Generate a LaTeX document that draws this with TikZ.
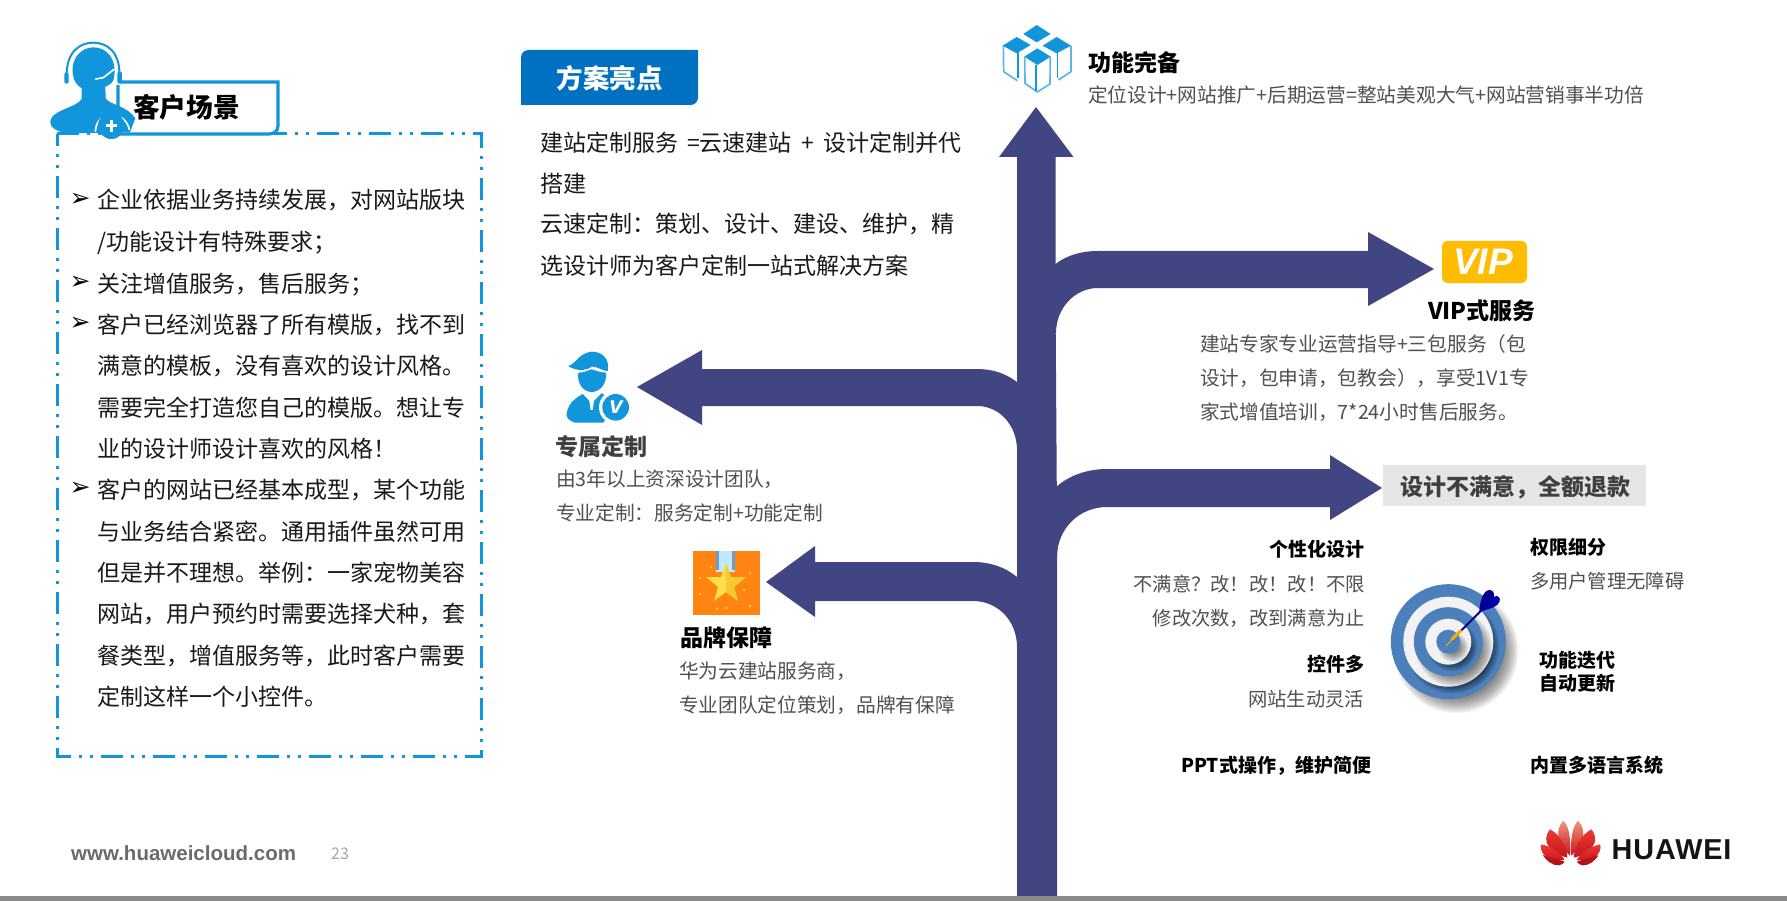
\documentclass[tikz,border=0pt]{standalone}
\usepackage{fontspec}
\setmainfont{Noto Sans CJK SC}
\newfontfamily\dvfont{DejaVu Sans}
\newfontfamily\libfont{Liberation Sans}
\definecolor{arrowblue}{HTML}{414581}
\definecolor{iconblue}{HTML}{1296DB}
\definecolor{cubelight}{HTML}{5DB5E8}
\definecolor{tagblue}{HTML}{0070C0}
\definecolor{bodygray}{HTML}{505050}
\definecolor{headgray}{HTML}{404040}
\definecolor{ringblue}{HTML}{4C80BC}
\definecolor{ringwhite}{HTML}{F2F2F2}
\definecolor{barcol}{HTML}{898989}
\definecolor{vipcol}{HTML}{FFBC00}
\definecolor{medalcol}{HTML}{FF8411}
\definecolor{starlight}{HTML}{FFE048}
\definecolor{stardark}{HTML}{F8C832}
\definecolor{petaltop}{HTML}{F4957C}
\definecolor{petalmid}{HTML}{EE3A32}
\definecolor{petalbot}{HTML}{C4141C}
\definecolor{petallow}{HTML}{A80F14}
\tikzset{
  txt/.style={inner sep=0pt,outer sep=0pt,font=\fontsize{#1}{#1}\selectfont,text height=0.91*#1 pt,text depth=0.09*#1 pt},
  btxt/.style={inner sep=0pt,outer sep=0pt,font=\fontsize{#1}{#1}\selectfont\bfseries,text height=0.91*#1 pt,text depth=0.09*#1 pt},
  lt/.style={anchor=west},
  rt/.style={anchor=east},
  panel/.style={txt=23,lt,text=black!90},
  desc/.style={txt=19.7,text=bodygray},
  bigarrow/.style={fill=arrowblue,draw=none},
  petal/.style={top color=#1,bottom color=petalbot,draw=none}
}
\newcommand{\ringshadow}[4]{% cx cy r shift
  \foreach \k in {0,...,15}{
    \fill[black,opacity=0.045] (#1+#4,#2+#4*1.15) circle[radius=#3+#4*0.6-\k*#4*0.15];
  }
}
\begin{document}
\begin{tikzpicture}[x=1pt,y=-1pt]
\useasboundingbox (0,0) rectangle (1787,901);
\fill[white] (0,0) rectangle (1787,901);

% ---- arrows
\fill[bigarrow] (1017,901) -- (1017,157) -- (999,157) -- (1036,107) -- (1073.5,157) -- (1055.5,157) -- (1055.5,300) -- (1057,520) -- (1057,901) -- cycle;
\fill[bigarrow] (1050,264) -- (1055.5,264) .. controls (1067,255) and (1082,251) .. (1098,251) -- (1368,251) -- (1368,232) -- (1434,269) -- (1368,306) -- (1368,288) -- (1098,288) .. controls (1075,288) and (1056,308) .. (1056,333) -- (1050,333) -- cycle;
\fill[bigarrow] (1050,488) -- (1055,488) .. controls (1069,475) and (1088,469) .. (1107,469) -- (1330,469) -- (1330,455) -- (1382,488) -- (1330,520) -- (1330,507) -- (1107,507) .. controls (1079,507) and (1057,529) .. (1057,557) -- (1050,557) -- cycle;
\fill[bigarrow] (1025,382) -- (1017,382) .. controls (1005,373) and (992,369) .. (977,369) -- (702,369) -- (702,350) -- (637,387) -- (702,425) -- (702,406) -- (977,406) .. controls (1000,406) and (1017,426) .. (1017,450) -- (1025,450) -- cycle;
\fill[bigarrow] (1025,577) -- (1017,577) .. controls (1005,567) and (990,562) .. (973,562) -- (815,562) -- (815,546) -- (766,582) -- (815,617) -- (815,601) -- (973,601) .. controls (998,601) and (1017,621) .. (1017,647) -- (1025,647) -- cycle;

% ---- bottom bar
\fill[barcol] (0,896) rectangle (1787,901);

% ---- left panel
\draw[iconblue,line width=3pt,dash pattern=on 22pt off 8pt on 3pt off 8pt on 3pt off 8pt] (57,134) -- (481,134) -- (481,756) -- (57,756) -- cycle;
\draw[iconblue,line width=3.2pt,fill=white] (118,82) -- (278,82) -- (278,126) .. controls (278,131) and (274,134) .. (269,134) -- (118,134) -- cycle;

% person with headset
\begin{scope}[shift={(40,35)},x=0.3333pt,y=-0.3333pt]
  \fill[white] (85,110) rectangle (240,150);
  \draw[iconblue,line width=2pt,line cap=round] (80,125) .. controls (78,50) and (120,23) .. (160,23) .. controls (200,23) and (242,50) .. (238,125);
  \fill[iconblue,rounded corners=2pt] (73,112) rectangle (86,146);
  \fill[iconblue,rounded corners=2pt] (232,110) rectangle (246,146);
  \fill[iconblue] (100,125) .. controls (88,70) and (125,37) .. (160,37) .. controls (200,37) and (232,70) .. (222,130) .. controls (218,145) and (208,150) .. (196,155) -- (197,190) .. controls (205,208) and (262,212) .. (286,250) -- (270,292) -- (80,295) .. controls (45,288) and (28,275) .. (31,258) .. controls (35,225) and (110,218) .. (125,192) -- (125,160) .. controls (110,150) and (102,138) .. (100,125) -- cycle;
  \draw[white,line width=1.7pt,line cap=round] (167,132) -- (190,128) -- (222,103);
  \draw[white,line width=1.7pt] (166,290) .. controls (168,255) and (190,240) .. (215,240) .. controls (245,240) and (265,262) .. (268,285);
  \fill[iconblue] (214,272) circle[radius=40];
  \fill[white] (197,267) rectangle (232,277);
  \fill[white] (209,254) rectangle (219,290);
\end{scope}
\node[btxt=26.7,text=black] (tabtitle) at (186.5,107) {客户场景};

\foreach \yy in {199.5,283,323.7,489}{
  \node[inner sep=0pt,font=\fontsize{25}{25}\selectfont\dvfont,text=black] at (80,\yy) {➢};
}
\node[panel] (p1) at (97,199.5) {企业依据业务持续发展，对网站版块};
\node[panel] (p2) at (97,241) {/功能设计有特殊要求；};
\node[panel] (p3) at (97,283) {关注增值服务，售后服务；};
\node[panel] (p4) at (97,323.7) {客户已经浏览器了所有模版，找不到};
\node[panel] (p5) at (97,365) {满意的模板，没有喜欢的设计风格。};
\node[panel] (p6) at (97,407) {需要完全打造您自己的模版。想让专};
\node[panel] (p7) at (97,448) {业的设计师设计喜欢的风格！};
\node[panel] (p8) at (97,489) {客户的网站已经基本成型，某个功能};
\node[panel] (p9) at (97,531) {与业务结合紧密。通用插件虽然可用};
\node[panel] (p10) at (97,572) {但是并不理想。举例：一家宠物美容};
\node[panel] (p11) at (97,613) {网站，用户预约时需要选择犬种，套};
\node[panel] (p12) at (97,655) {餐类型，增值服务等，此时客户需要};
\node[panel] (p13) at (97,696) {定制这样一个小控件。};

% ---- highlight tag
\fill[tagblue] (521,105) -- (521,58) .. controls (521,53) and (524,50) .. (529,50) -- (698,50) -- (698,97) .. controls (698,102) and (695,105) .. (690,105) -- cycle;
\node[btxt=26.5,text=white] (tag) at (609.5,78) {方案亮点};
\node[panel] (h1) at (540,142) {建站定制服务\hspace{9pt}=云速建站\hspace{9.5pt}+\hspace{9.5pt}设计定制并代};
\node[panel] (h2) at (540,183) {搭建};
\node[panel] (h3) at (540,223) {云速定制：策划、设计、建设、维护，精};
\node[panel] (h4) at (540,265) {选设计师为客户定制一站式解决方案};

% ---- cube icon
\begin{scope}[shift={(990,15)},x=0.3333pt,y=-0.3333pt]
  \draw[cubelight,line width=1.7pt,line join=round] (40,92) -- (41,170) -- (82,197);
  \draw[cubelight,line width=1.7pt,line join=round] (243,92) -- (243,170) -- (205,195);
  \draw[iconblue,line width=1.5pt] (84,110) -- (84,190);
  \draw[iconblue,line width=1.5pt] (202,110) -- (202,190);
  \fill[iconblue] (140,30) -- (182,57) -- (140,82) -- (100,57) -- cycle;
  \fill[iconblue] (38,92) -- (80,66) -- (122,90) -- (80,115) -- cycle;
  \fill[iconblue] (158,92) -- (200,66) -- (243,92) -- (200,115) -- cycle;
  \fill[white] (142,92) -- (192,125) -- (192,215) -- (142,242) -- (95,215) -- (95,125) -- cycle;
  \fill[iconblue] (103,125) -- (142,100) -- (182,125) -- (142,150) -- cycle;
  \draw[cubelight,line width=1.7pt,line join=round] (104,125) -- (105,205) -- (142,231) -- (180,207) -- (181,125);
  \draw[iconblue,line width=1.7pt] (138,150) -- (138,228);
\end{scope}
\node[btxt=23,lt,text=black] (f1) at (1088,62) {功能完备};
\node[desc,lt] (f2) at (1088,94) {定位设计+网站推广+后期运营=整站美观大气+网站营销事半功倍};

% ---- VIP
\fill[vipcol,rounded corners=5pt] (1442,241) rectangle (1527,283);
\node[inner sep=0pt,text=white,font=\fontsize{37}{37}\selectfont\libfont\bfseries\itshape] (vip) at (1483,262) {VIP};
\node[btxt=23,lt,text=black] (v1) at (1428,310) {VIP式服务};
\node[desc,lt] (v2) at (1200,343) {建站专家专业运营指导+三包服务（包};
\node[desc,lt] (v3) at (1200,377.5) {设计，包申请，包教会），享受1V1专};
\node[desc,lt] (v4) at (1200,411.5) {家式增值培训，7*24小时售后服务。};

% ---- exclusive customisation icon
\begin{scope}[shift={(520,330)},x=0.3333pt,y=-0.3333pt]
  \fill[iconblue] (145,108) .. controls (170,100) and (175,70) .. (215,65) .. controls (250,65) and (270,90) .. (263,124) .. controls (240,118) and (225,108) .. (215,110) .. controls (200,122) and (170,125) .. (145,108) -- cycle;
  \fill[iconblue] (175,128) .. controls (195,128) and (205,120) .. (215,118) .. controls (228,122) and (245,128) .. (258,128) .. controls (262,160) and (240,186) .. (215,186) .. controls (190,186) and (170,160) .. (175,128) -- cycle;
  \fill[iconblue] (188,192) -- (215,220) -- (245,190) .. controls (262,200) and (275,205) .. (285,225) -- (250,278) -- (165,278) .. controls (145,272) and (138,262) .. (140,250) .. controls (145,220) and (165,205) .. (188,192) -- cycle;
  \fill[white] (200,197) -- (230,197) -- (215,212) -- cycle;
  \fill[white] (208,212) -- (222,212) -- (218,240) -- (212,240) -- cycle;
  \fill[white] (287,232) circle[radius=50];
  \fill[iconblue] (287,232) circle[radius=40];
  \node[inner sep=0pt,text=white,font=\fontsize{24}{24}\selectfont\libfont\bfseries\itshape] at (288,232) {v};
\end{scope}
\node[btxt=23,lt,text=headgray] (e1) at (555,446) {专属定制};
\node[desc,lt] (e2) at (556,478) {由3年以上资深设计团队，};
\node[desc,lt] (e3) at (556,512) {专业定制：服务定制+功能定制};

% ---- medal
\fill[medalcol] (693,551) rectangle (760,615);
\fill[cyan!25!white] (716,551) rectangle (735,572);
\fill[cyan!50!blue!60!white] (716,551) rectangle (719,570);
\fill[cyan!50!blue!60!white] (732,551) rectangle (735,570);
\fill[starlight] (726,563) -- (731,577) -- (746,577) -- (734,587) -- (738,601) -- (726,592) -- (714,601) -- (718,587) -- (706,577) -- (721,577) -- cycle;
\fill[stardark] (726,563) -- (731,577) -- (746,577) -- (734,587) -- (738,601) -- (726,592) -- cycle;
\foreach \sx/\sy in {711/567,700/578,750/573,700/594,750/606,744/590,717/609,726/608}{
  \fill[yellow!70!white] (\sx,\sy) circle[radius=1];
}
\node[btxt=23,lt,text=black] (b1) at (680,637) {品牌保障};
\node[desc,lt] (b2) at (679,670) {华为云建站服务商，};
\node[desc,lt] (b3) at (679,704) {专业团队定位策划，品牌有保障};

% ---- refund label
\fill[black!10] (1383,465) rectangle (1646,506);
\node[btxt=23,text=headgray] (r0) at (1515,486) {设计不满意，全额退款};
\node[btxt=19,rt,text=black] (r1) at (1364,549) {个性化设计};
\node[desc,rt,txt=19.3] (r2) at (1365,584) {不满意？改！改！改！不限};
\node[desc,rt,txt=19.3] (r3) at (1365,618) {修改次数，改到满意为止};
\node[btxt=19,rt,text=black] (r4) at (1364,664) {控件多};
\node[desc,rt,txt=19.3] (r5) at (1364,699) {网站生动灵活};
\node[btxt=19,rt,text=black] (r6) at (1371,765) {PPT式操作，维护简便};
\node[btxt=19,lt,text=black] (r7) at (1530,547) {权限细分};
\node[desc,lt,txt=19.3] (r8) at (1530,581) {多用户管理无障碍};
\node[btxt=19,lt,text=black] (r9) at (1539,660) {功能迭代};
\node[btxt=19,lt,text=black] (r10) at (1539,683) {自动更新};
\node[btxt=19,lt,text=black] (r11) at (1530,765) {内置多语言系统};

% ---- target
\ringshadow{1448.3}{641.7}{57.5}{8}
\fill[ringblue] (1448.3,641.7) circle[radius=57.5];
\ringshadow{1448.3}{641.7}{45}{4}
\fill[ringwhite] (1448.3,641.7) circle[radius=45];
\ringshadow{1448.3}{641.7}{34.5}{6}
\fill[ringblue] (1448.3,641.7) circle[radius=34.5];
\ringshadow{1448.3}{641.7}{23}{4}
\fill[ringwhite] (1448.3,641.7) circle[radius=23];
\ringshadow{1448.3}{641.7}{12}{5}
\fill[ringblue] (1448.3,641.7) circle[radius=12];
% dart
\begin{scope}[shift={(1380,570)},x=0.3333pt,y=-0.3333pt]
  \draw[orange!60!yellow,line width=1pt] (198,228) -- (215,210);
  \draw[orange!70!yellow,line width=3pt,line cap=round] (215,208) -- (245,180);
  \draw[blue!60!black,line width=2pt] (245,180) -- (303,122);
  \fill[blue!55!black] (298,126) .. controls (300,90) and (310,60) .. (330,60) .. controls (345,62) and (345,80) .. (338,90) .. controls (330,105) and (315,120) .. (298,126) -- cycle;
  \fill[blue!65!black] (298,126) .. controls (320,100) and (335,75) .. (352,78) .. controls (368,85) and (358,105) .. (340,112) .. controls (325,118) and (310,122) .. (298,126) -- cycle;
\end{scope}

% ---- footer
\node[inner sep=0pt,anchor=base west,text=black!58,font=\fontsize{20.5}{20.5}\selectfont\libfont\bfseries] (www) at (71,860) {www.huaweicloud.com};
\node[inner sep=0pt,text=black!35,font=\fontsize{16}{16}\selectfont] (page) at (340,854) {23};

% ---- Huawei logo
\begin{scope}[shift={(1570.7,810)},x=0.3333pt,y=-0.3333pt]
  \foreach \sg in {1,-1}{
    \begin{scope}[xscale=\sg]
      \shade[petal=petaltop] (-2,137) .. controls (-38,105) and (-50,60) .. (-22,32) .. controls (-4,50) and (2,95) .. (-2,137) -- cycle;
      \shade[petal=petalmid] (-10,143) .. controls (-60,130) and (-92,95) .. (-62,58) .. controls (-30,75) and (-12,110) .. (-10,143) -- cycle;
      \shade[petal=petalmid] (-18,150) .. controls (-60,158) and (-95,135) .. (-89,103) .. controls (-55,110) and (-30,130) .. (-18,150) -- cycle;
      \shade[top color=petalbot,bottom color=petallow,draw=none] (-18,155) -- (-84,135) .. controls (-75,150) and (-55,168) .. (-35,166) .. controls (-28,165) and (-22,160) .. (-18,155) -- cycle;
    \end{scope}
  }
\end{scope}
\node[inner sep=0pt,anchor=base west,text=black!92,font=\fontsize{28.8}{28.8}\selectfont\libfont\bfseries\addfontfeature{LetterSpace=3.2}] (hw) at (1611.5,859) {HUAWEI};
\end{tikzpicture}
\end{document}
